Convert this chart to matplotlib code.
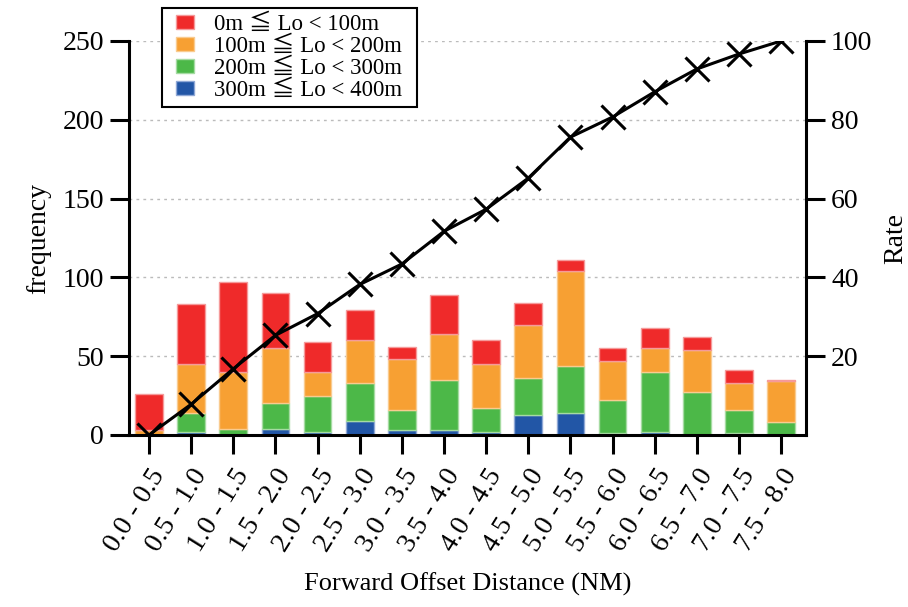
import matplotlib
matplotlib.use("Agg")
import matplotlib.pyplot as plt
import numpy as np
from matplotlib.patches import Patch, Rectangle

categories = ["0.0 - 0.5", "0.5 - 1.0", "1.0 - 1.5", "1.5 - 2.0", "2.0 - 2.5", "2.5 - 3.0",
              "3.0 - 3.5", "3.5 - 4.0", "4.0 - 4.5", "4.5 - 5.0", "5.0 - 5.5", "5.5 - 6.0",
              "6.0 - 6.5", "6.5 - 7.0", "7.0 - 7.5", "7.5 - 8.0"]
red = [23, 38, 57, 35, 19, 19, 8, 25, 15, 14, 7, 8, 13, 8, 8, 1]
orange = [3, 31, 36, 35, 15, 27, 32, 29, 28, 34, 60, 25, 15, 27, 17, 26]
green = [0, 12, 4, 16, 23, 24, 13, 32, 15, 23, 30, 21, 38, 27, 15, 8]
blue = [0, 2, 0, 4, 2, 9, 3, 3, 2, 13, 14, 1, 2, 0, 1, 0]
rate = [0, 7.8, 16.8, 25.3, 30.8, 38.2, 43.4, 51.7, 57.3, 65.2, 75.6, 80.7, 87.1, 92.9, 96.7, 100]
labels = ["0m ≦ Lo < 100m", "100m ≦ Lo < 200m", "200m ≦ Lo < 300m", "300m ≦ Lo < 400m"]
freq_ticks = [0, 50, 100, 150, 200, 250]
rate_ticks = [20, 40, 60, 80, 100]

plt.rcParams['font.family'] = ['Liberation Serif', 'Noto Sans CJK JP', 'DejaVu Serif']
plt.rcParams['font.size'] = 20

W, H = 908, 607
fig = plt.figure(figsize=(W/100, H/100), dpi=100)
ax = fig.add_axes([129/W, 1-435/H, (806-129)/W, (435-41)/H])

x = np.arange(len(categories))
w = 0.66
cols = ["#EF2A2A", "#F7A033", "#4CB848", "#2256A6"]
edges = ["#F59A9A", "#F9CB8F", "#A5DBA2", "#8FA8D6"]
series = [blue, green, orange, red]
scol = [cols[3], cols[2], cols[1], cols[0]]
sedge = [edges[3], edges[2], edges[1], edges[0]]
bottom = np.zeros(len(categories))
for vals, c, e in zip(series, scol, sedge):
    v = np.array(vals, dtype=float)
    ax.bar(x, v, w, bottom=bottom, color=c, edgecolor=e, linewidth=1.0, zorder=2)
    bottom += v

ax.set_xlim(-0.475, 15.59)
ax.set_ylim(0, 250)
ax.set_yticks(freq_ticks)
ax.yaxis.grid(True, linestyle=(0, (2, 3)), color="#BBBBBB", linewidth=1.0, zorder=0)
ax.set_axisbelow(True)
ax.set_xticks(x)
ax.set_xticklabels(categories, rotation=58, ha='right', rotation_mode='anchor')
ax.tick_params(axis='both', direction='out', length=14, width=2.2, labelsize=20, pad=4)
ax.tick_params(axis='x', pad=7)
for s in ['top', 'right']:
    ax.spines[s].set_visible(False)
for s in ['left', 'bottom']:
    ax.spines[s].set_linewidth(2.2)
ax.set_ylabel("frequency", fontsize=20, labelpad=8)
ax.set_xlabel("Forward Offset Distance (NM)", fontsize=19, labelpad=12)

ax2 = ax.twinx()
ax2.plot(x, rate, color='black', linewidth=2.2, marker='x', markersize=17,
         markeredgewidth=2.2, zorder=5)
ax2.set_ylim(0, 100)
ax2.set_yticks(rate_ticks)
ax2.tick_params(axis='y', direction='out', length=14, width=2.2, labelsize=20, pad=4)
for s in ['top', 'left', 'bottom']:
    ax2.spines[s].set_visible(False)
ax2.spines['right'].set_linewidth(2.2)
ax2.set_ylabel("Rate", fontsize=20, labelpad=8)

handles = [Patch(facecolor=c, edgecolor=e, linewidth=1.0) for c, e in zip(cols, edges)]
padx_l, padx_r = 8, 10
leg = fig.legend(handles, labels, loc='upper left', bbox_to_anchor=((162 + padx_l)/W, 1-8/H),
                 fontsize=16.5, frameon=False, handlelength=0.8, handleheight=0.55,
                 handletextpad=0.85, labelspacing=0.05, borderpad=0.25, borderaxespad=0)
fig.canvas.draw()
bb = leg.get_window_extent()
frame = Rectangle((bb.x0 - padx_l, bb.y0), bb.width + padx_l + padx_r, bb.height,
                  transform=None, facecolor='white', edgecolor='black', linewidth=1.5,
                  zorder=leg.get_zorder() - 0.1)
fig.patches.append(frame)

fig.savefig("out.png", dpi=100)
